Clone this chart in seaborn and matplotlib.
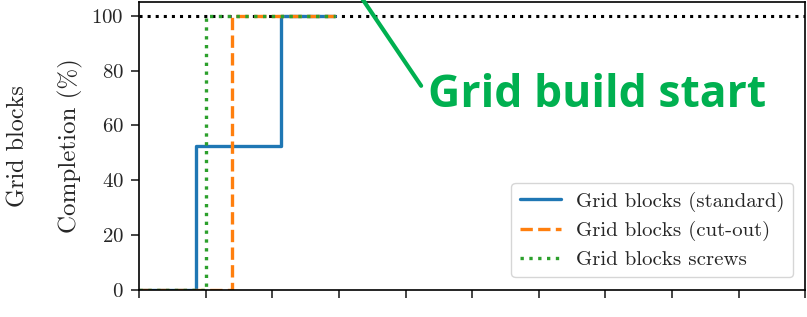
import pandas as pd
import matplotlib
matplotlib.use('Agg')
import matplotlib.pyplot as plt
import seaborn as sns

# step series, x in plot units, y in % completion
standard_x = [0.0, 0.85, 2.13, 2.94]
standard_y = [0.0, 52.6, 100.0, 100.0]
cutout_x = [0.0, 1.39, 2.94]
cutout_y = [0.0, 100.0, 100.0]
screws_x = [0.0, 1.0, 2.94]
screws_y = [0.0, 100.0, 100.0]

series_labels = ['Grid blocks (standard)', 'Grid blocks (cut-out)', 'Grid blocks screws']
series_colors = ['#1f77b4', '#ff7f0e', '#2ca02c']
series_styles = ['-', '--', ':']

y_ticks = [0, 20, 40, 60, 80, 100]
x_ticks = list(range(0, 11))
target = 100

sns.set_style('ticks')
plt.rcParams['font.family'] = 'serif'
plt.rcParams['font.serif'] = ['cmr10']
plt.rcParams['mathtext.fontset'] = 'cm'
plt.rcParams['axes.formatter.use_mathtext'] = True

fig = plt.figure(figsize=(8.07, 3.17), dpi=100)
ax = fig.add_axes([0.1722, 0.0852, 0.8258, 0.9085])

ax.axhline(target, color='black', linestyle=':', linewidth=2.2, zorder=1)

all_series = [(standard_x, standard_y), (cutout_x, cutout_y), (screws_x, screws_y)]
for (xs, ys), label, color, style in zip(all_series, series_labels, series_colors, series_styles):
    df = pd.DataFrame({'x': xs, 'y': ys})
    sns.lineplot(data=df, x='x', y='y', ax=ax, drawstyle='steps-post',
                 color=color, linestyle=style, linewidth=2.4, label=label, zorder=2)

ax.set_xlim(0, 10)
ax.set_ylim(0, 105)
ax.set_xticks(x_ticks)
ax.set_yticks(y_ticks)
ax.tick_params(axis='x', labelbottom=False, direction='out', length=6, width=1.2)
ax.tick_params(axis='y', direction='out', length=6, width=1.2, labelsize=15, pad=5)
for sp in ax.spines.values():
    sp.set_linewidth(1.2)
    sp.set_color('black')

ax.set_xlabel('')
ax.set_ylabel('Completion (%)', fontsize=18, labelpad=6)
ax.text(-0.181, 0.5, 'Grid blocks', transform=ax.transAxes, rotation=90,
        ha='center', va='center', fontsize=17.5)

ax.legend(loc='lower right', fontsize=15, frameon=True, handlelength=2.0,
          handletextpad=0.7, labelspacing=0.45, borderaxespad=0.6)

ax.annotate('Grid build start', xy=(2.966, 120), xytext=(4.33, 71.0),
            textcoords='data', ha='left', va='center', color='#00B050',
            fontsize=32, fontweight='bold', family=['Open Sans', 'DejaVu Sans'],
            annotation_clip=False,
            arrowprops=dict(arrowstyle='-', color='#00B050', lw=3,
                            relpos=(0, 0.5), shrinkA=4, shrinkB=0))

fig.savefig('out.png', dpi=100)
